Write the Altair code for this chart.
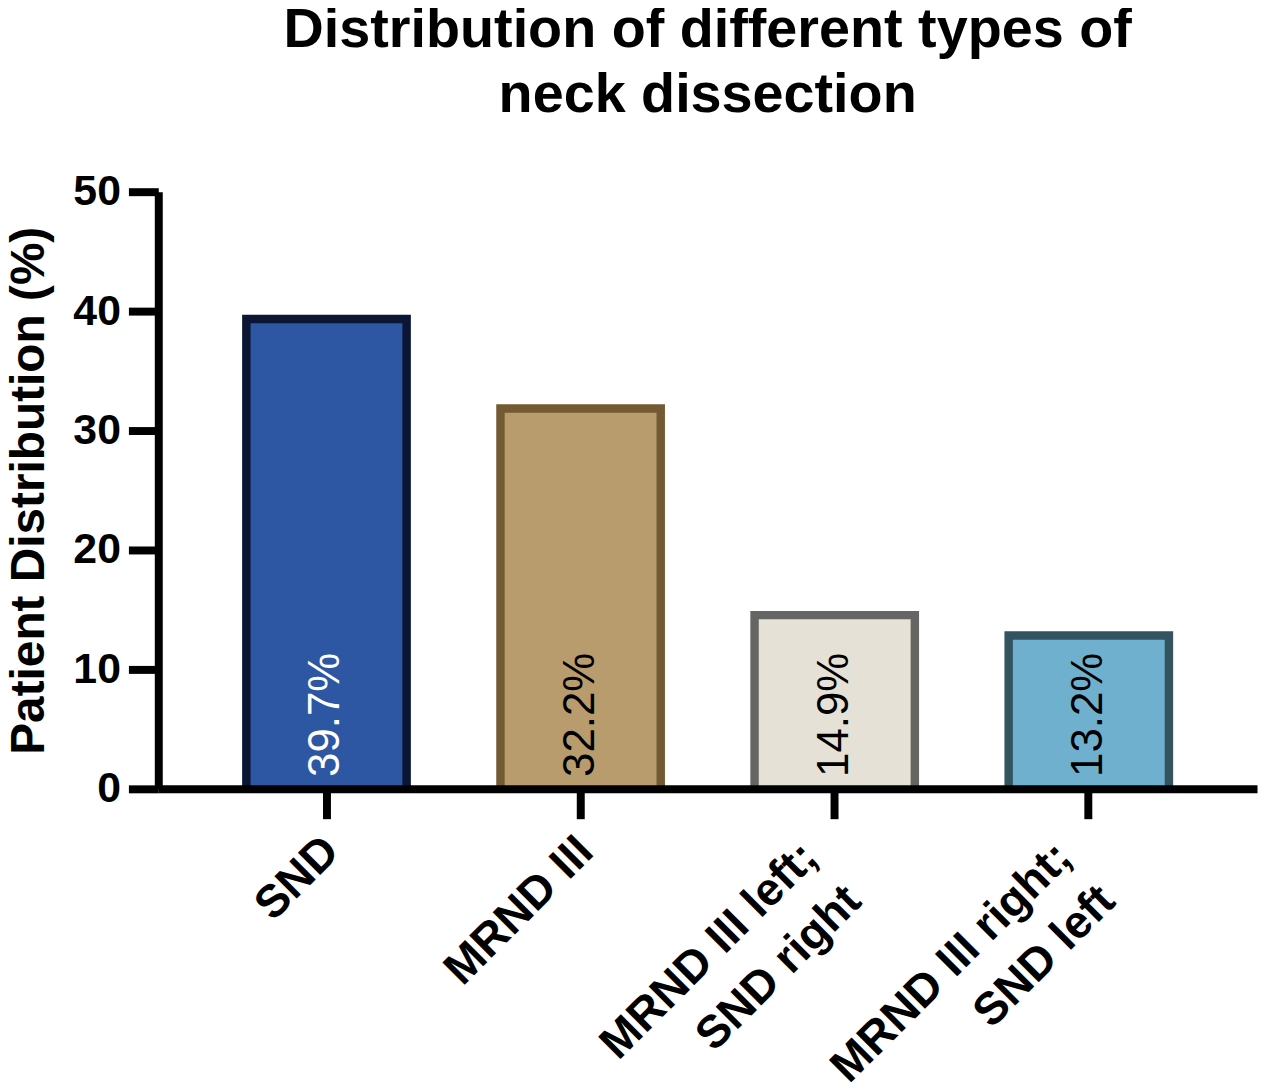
import altair as alt
import pandas as pd

categories = ["SND", "MRND III", "MRND III left; SND right", "MRND III right; SND left"]
values = [39.7, 32.2, 14.9, 13.2]
fill_colors = ["#2D56A3", "#B89C6E", "#E6E1D6", "#6FB0CE"]
edge_colors = ["#0A1634", "#735A33", "#656563", "#33545F"]
y_ticks = [0, 10, 20, 30, 40, 50]
title_lines = ["Distribution of different types of", "neck dissection"]
y_title = "Patient Distribution (%)"

df = pd.DataFrame({"category": categories, "value": values})

FONT = "Liberation Sans"
TWO_LINE = "indexof(datum.value, ';') > 0"

x_enc = alt.X(
    "category:N",
    sort=categories,
    title=None,
    scale=alt.Scale(paddingInner=0.336, paddingOuter=0.33),
    axis=alt.Axis(
        labelAngle=315,
        labelAlign="right",
        labelBaseline="middle",
        labelFontSize=46,
        labelFontWeight="bold",
        labelFont=FONT,
        labelLineHeight=62,
        labelPadding={"condition": {"test": TWO_LINE, "value": 31}, "value": 25},
        labelOffset={"condition": {"test": TWO_LINE, "value": -25}, "value": 5},
        labelExpr="indexof(datum.label, '; ') > 0 ? [slice(datum.label, 0, indexof(datum.label, '; ') + 1), slice(datum.label, indexof(datum.label, '; ') + 2)] : datum.label",
        tickSize=30,
        tickWidth=8,
        domainWidth=8,
        labelOverlap=False,
        labelLimit=0,
        zindex=1,
    ),
)

y_enc = alt.Y(
    "value:Q",
    scale=alt.Scale(domain=[0, 50], nice=False),
    axis=alt.Axis(
        values=y_ticks,
        title=y_title,
        titleFontSize=48,
        titleFontWeight="bold",
        titleFont=FONT,
        titlePadding=20,
        labelFontSize=43,
        labelFontWeight="bold",
        labelFont=FONT,
        labelPadding=8,
        tickSize=30,
        tickWidth=8,
        domainWidth=8,
        grid=False,
        zindex=1,
    ),
)

base = alt.Chart(df)

outer = base.mark_bar().encode(
    x=x_enc,
    y=y_enc,
    color=alt.Color("category:N", scale=alt.Scale(domain=categories, range=edge_colors), legend=None),
)

inner = base.mark_bar(yOffset=8.5, y2Offset=0, width=alt.RelativeBandSize(0.9)).encode(
    x=alt.X("category:N", sort=categories),
    y=alt.Y("value:Q"),
    y2=alt.datum(0),
    fill=alt.Fill("category:N", scale=alt.Scale(domain=categories, range=fill_colors), legend=None),
)

text = base.transform_calculate(
    label="format(datum.value, '.1f') + '%'"
).mark_text(
    angle=270, align="left", baseline="middle", dx=12, fontSize=44, font=FONT
).encode(
    x=alt.X("category:N", sort=categories),
    y=alt.datum(0),
    text="label:N",
    color=alt.condition(alt.datum.category == "SND", alt.value("white"), alt.value("black")),
)

chart = alt.layer(outer, inner, text).properties(
    width=1104,
    height=600,
    title=alt.TitleParams(
        text=title_lines,
        fontSize=56,
        fontWeight="bold",
        font=FONT,
        anchor="middle",
        lineHeight=65,
        offset=47,
        color="black",
    ),
    autosize=alt.AutoSizeParams(type="none"),
    padding={"left": 151, "top": 182, "right": 3, "bottom": 292},
).configure_view(stroke=None).configure_axis(
    domainColor="black", tickColor="black", labelColor="black", titleColor="black"
)

chart.save("out.html", embed_options={"renderer": "svg", "actions": False})
